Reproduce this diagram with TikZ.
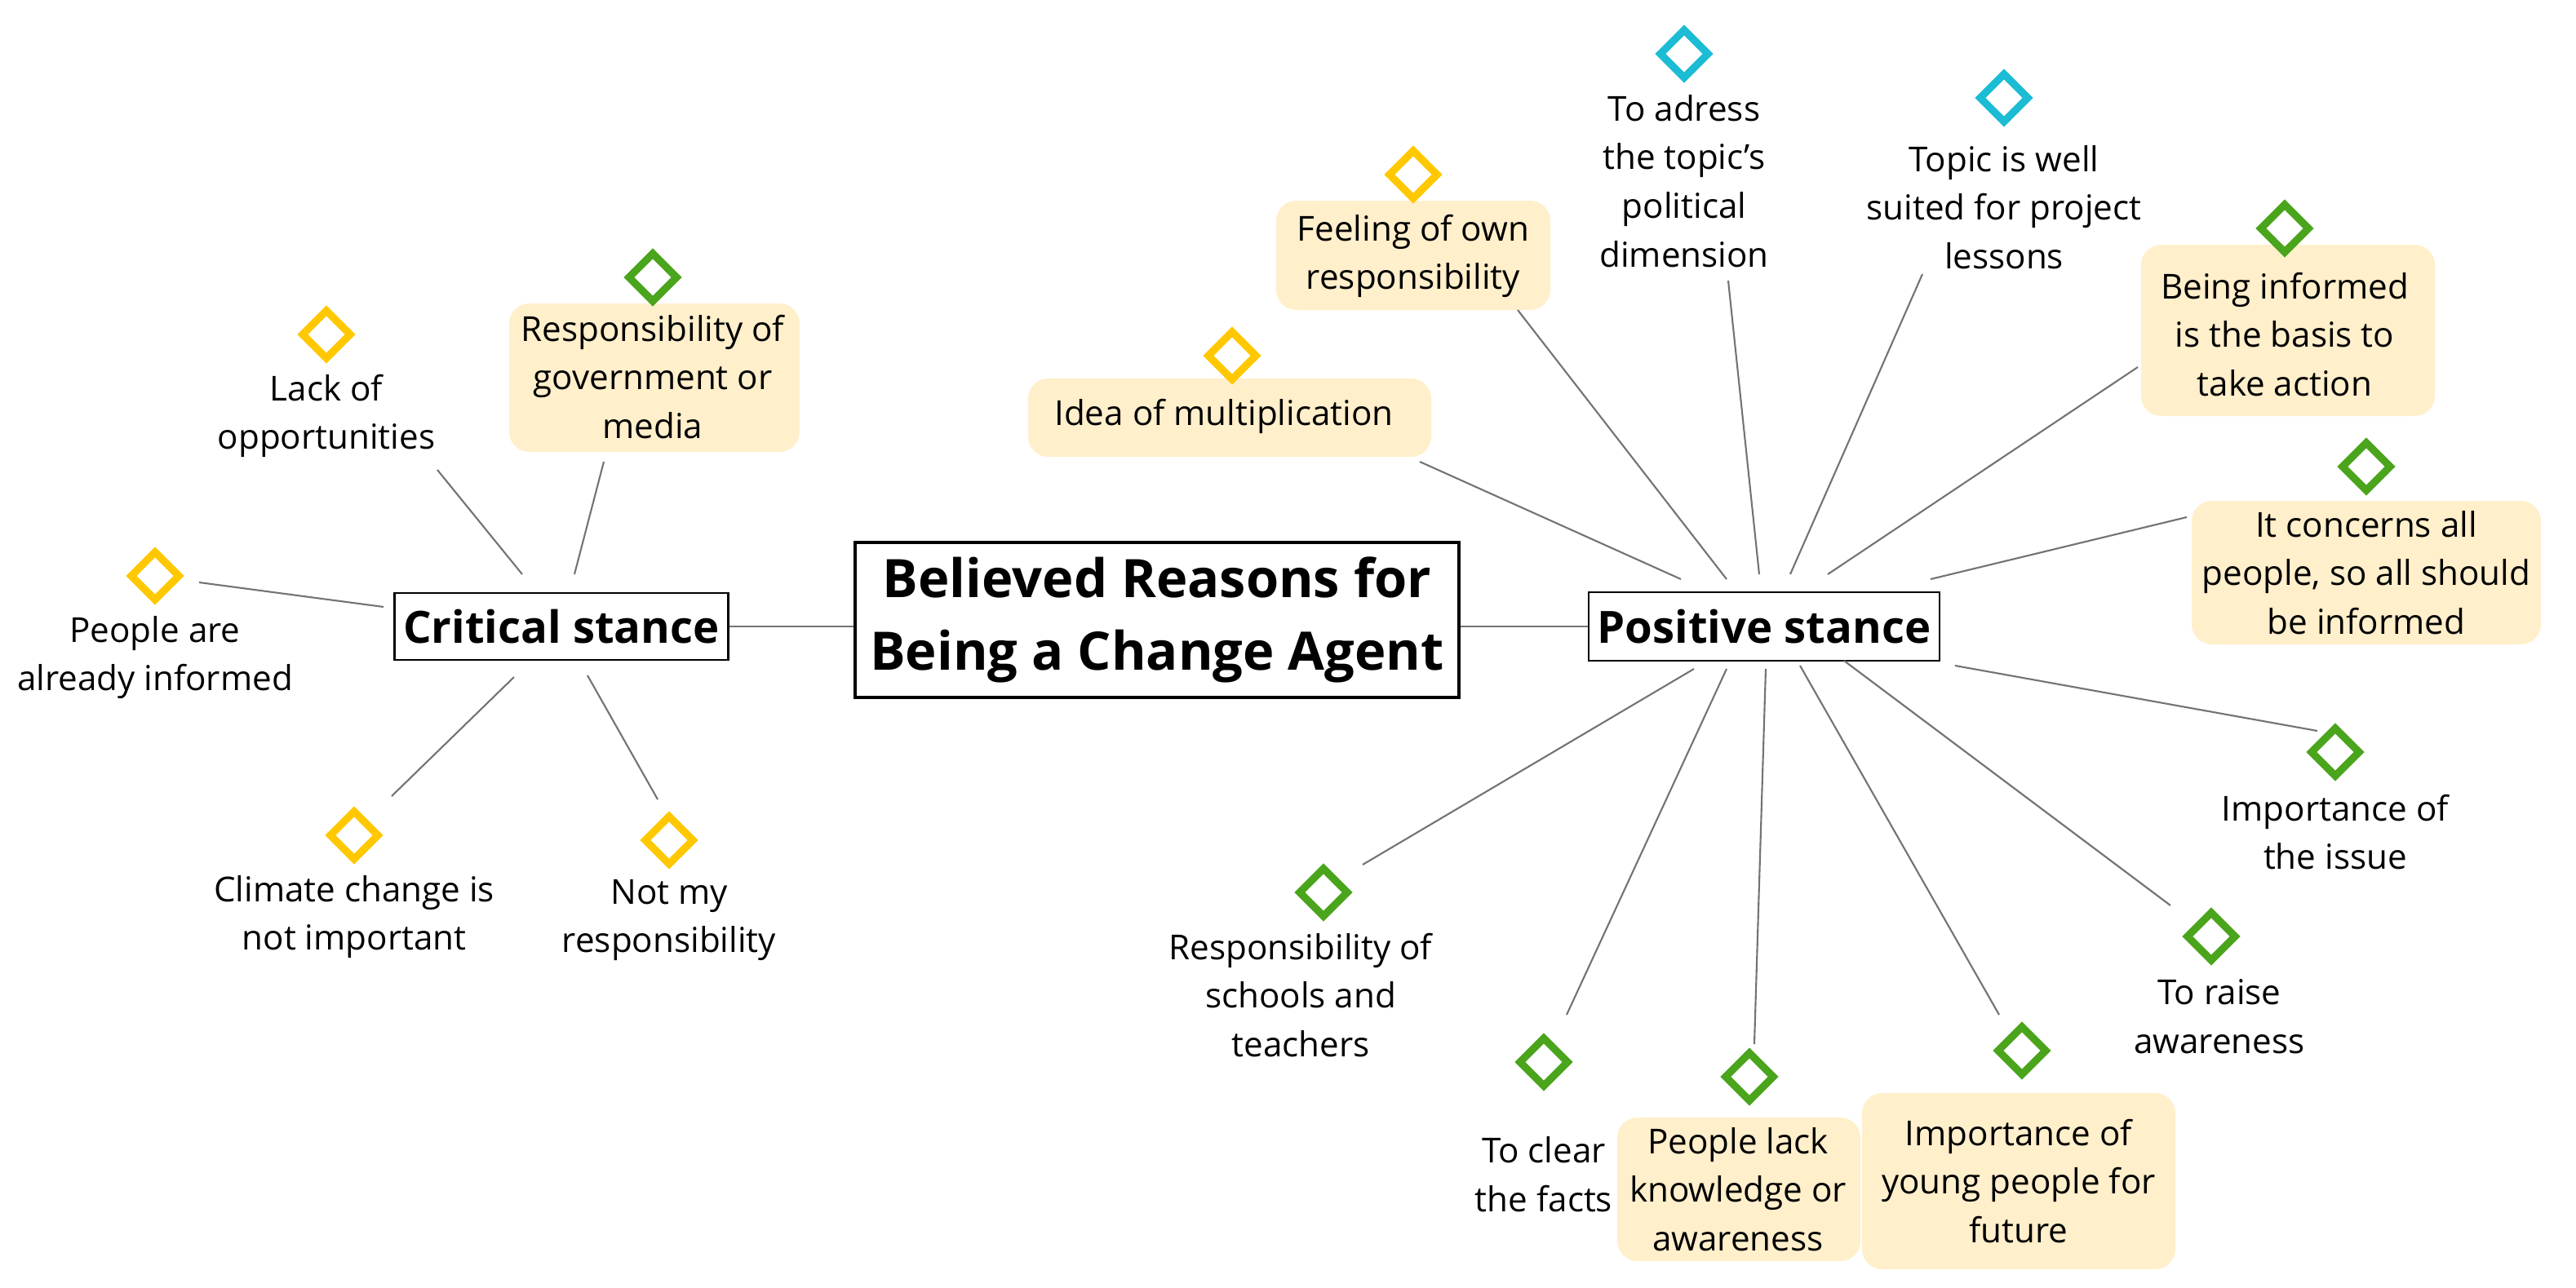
\documentclass[tikz,border=0pt]{standalone}
\usepackage{fontspec}
\setmainfont{Open Sans}
\usetikzlibrary{shapes.geometric}
\definecolor{yel}{HTML}{FFC800}
\definecolor{grn}{HTML}{4AA51C}
\definecolor{cya}{HTML}{1CBCD4}
\definecolor{hl}{HTML}{FFEFCB}
\begin{document}
\begin{tikzpicture}[x=0.02cm,y=-0.02cm,
  dia/.style={draw=#1,diamond,line width=2.6pt,minimum width=0.62cm,minimum height=0.62cm,inner sep=0pt},
  lab/.style={align=center,font=\fontsize{12}{17}\selectfont,inner sep=2pt},
  stance/.style={draw,line width=0.8pt,font=\fontsize{15.5}{18}\bfseries\selectfont,inner sep=3pt},
  con/.style={draw=black!55,line width=0.6pt}]
\useasboundingbox (0,0) rectangle (1578.5,789.5);
% center
\node[draw,line width=1.4pt,align=center,font=\fontsize{18.5}{25.5}\bfseries\selectfont,minimum width=370*0.02cm,minimum height=95*0.02cm,inner sep=0pt] (T) at (709,380) {Believed Reasons for\\Being a Change Agent};
\node[stance,minimum width=198*0.02cm,minimum height=41*0.02cm] (C) at (344,384) {Critical stance};
\node[stance,minimum width=209*0.02cm,minimum height=42*0.02cm] (P) at (1081,384) {Positive stance};
\draw[con] (C.east) -- (T.west|-C.east);
\draw[con] (T.east|-P.west) -- (P.west);
% hl boxes
\fill[hl,rounded corners=7pt] (312,186) rectangle (490,277);
\fill[hl,rounded corners=7pt] (630,232) rectangle (877,280);
\fill[hl,rounded corners=7pt] (782,123) rectangle (950,190);
\fill[hl,rounded corners=7pt] (1312,150) rectangle (1492,255);
\fill[hl,rounded corners=7pt] (1343,307) rectangle (1557,395);
\fill[hl,rounded corners=7pt] (1141,670) rectangle (1333,778);
\fill[hl,rounded corners=7pt] (991,685) rectangle (1140,773);
% critical leaves
\node[dia=yel] (d1) at (200,205) {};
\node[lab] (l1) at (200,255) {Lack of\\opportunities};
\node[dia=grn] (d2) at (400,170) {};
\node[lab] (l2) at (400,231) {Responsibility of\\government or\\media};
\node[dia=yel] (d3) at (95,353) {};
\node[lab] (l3) at (95,403) {People are\\already informed};
\node[dia=yel] (d4) at (217,512) {};
\node[lab] (l4) at (217,562) {Climate change is\\not important};
\node[dia=yel] (d5) at (410,515) {};
\node[lab] (l5) at (410,564) {Not my\\responsibility};
\coordinate (c1a) at (268,288); \coordinate (c1b) at (320,352);
\coordinate (c2a) at (370,283); \coordinate (c2b) at (352,352);
\coordinate (c3a) at (122,357); \coordinate (c3b) at (235,372);
\coordinate (c4a) at (240,488); \coordinate (c4b) at (315,415);
\coordinate (c5a) at (403,490); \coordinate (c5b) at (360,414);
\foreach \i in {1,...,5} {\draw[con] (c\i a) -- (c\i b);}
% positive leaves
\node[dia=yel] (e1) at (755,218) {};
\node[lab] (m1) at (750,255) {Idea of multiplication};
\node[dia=yel] (e2) at (866,107) {};
\node[lab] (m2) at (866,157) {Feeling of own\\responsibility};
\node[dia=cya] (e3) at (1032,33) {};
\node[lab] (m3) at (1032,111) {To adress\\the topic's\\political\\dimension};
\node[dia=cya] (e4) at (1228,60) {};
\node[lab] (m4) at (1228,127) {Topic is well\\suited for project\\lessons};
\node[dia=grn] (e5) at (1400,140) {};
\node[lab] (m5) at (1400,205) {Being informed\\is the basis to\\take action};
\node[dia=grn] (e6) at (1450,286) {};
\node[lab] (m6) at (1450,351) {It concerns all\\people, so all should\\be informed};
\node[dia=grn] (e7) at (1431,461) {};
\node[lab] (m7) at (1431,510) {Importance of\\the issue};
\node[dia=grn] (e8) at (1355,574) {};
\node[lab] (m8) at (1360,623) {To raise\\awareness};
\node[dia=grn] (e9) at (1239,644) {};
\node[lab] (m9) at (1237,724) {Importance of\\young people for\\future};
\node[dia=grn] (e10) at (1072,660) {};
\node[lab] (m10) at (1065,729) {People lack\\knowledge or\\awareness};
\node[dia=grn] (e11) at (946,651) {};
\node[lab] (m11) at (946,720) {To clear\\the facts};
\node[dia=grn] (e12) at (811,547) {};
\node[lab] (m12) at (797,610) {Responsibility of\\schools and\\teachers};
\coordinate (p1a) at (870,283); \coordinate (p1b) at (1030,355);
\coordinate (p2a) at (930,190); \coordinate (p2b) at (1058,355);
\coordinate (p3a) at (1059,172); \coordinate (p3b) at (1078,352);
\coordinate (p4a) at (1178,168); \coordinate (p4b) at (1097,352);
\coordinate (p5a) at (1310,225); \coordinate (p5b) at (1120,352);
\coordinate (p6a) at (1340,317); \coordinate (p6b) at (1183,355);
\coordinate (p7a) at (1420,448); \coordinate (p7b) at (1198,408);
\coordinate (p8a) at (1330,555); \coordinate (p8b) at (1130,405);
\coordinate (p9a) at (1225,622); \coordinate (p9b) at (1103,408);
\coordinate (p10a) at (1075,640); \coordinate (p10b) at (1082,410);
\coordinate (p11a) at (960,622); \coordinate (p11b) at (1058,410);
\coordinate (p12a) at (835,530); \coordinate (p12b) at (1038,410);
\foreach \i in {1,...,12} {\draw[con] (p\i a) -- (p\i b);}
\end{tikzpicture}
\end{document}
